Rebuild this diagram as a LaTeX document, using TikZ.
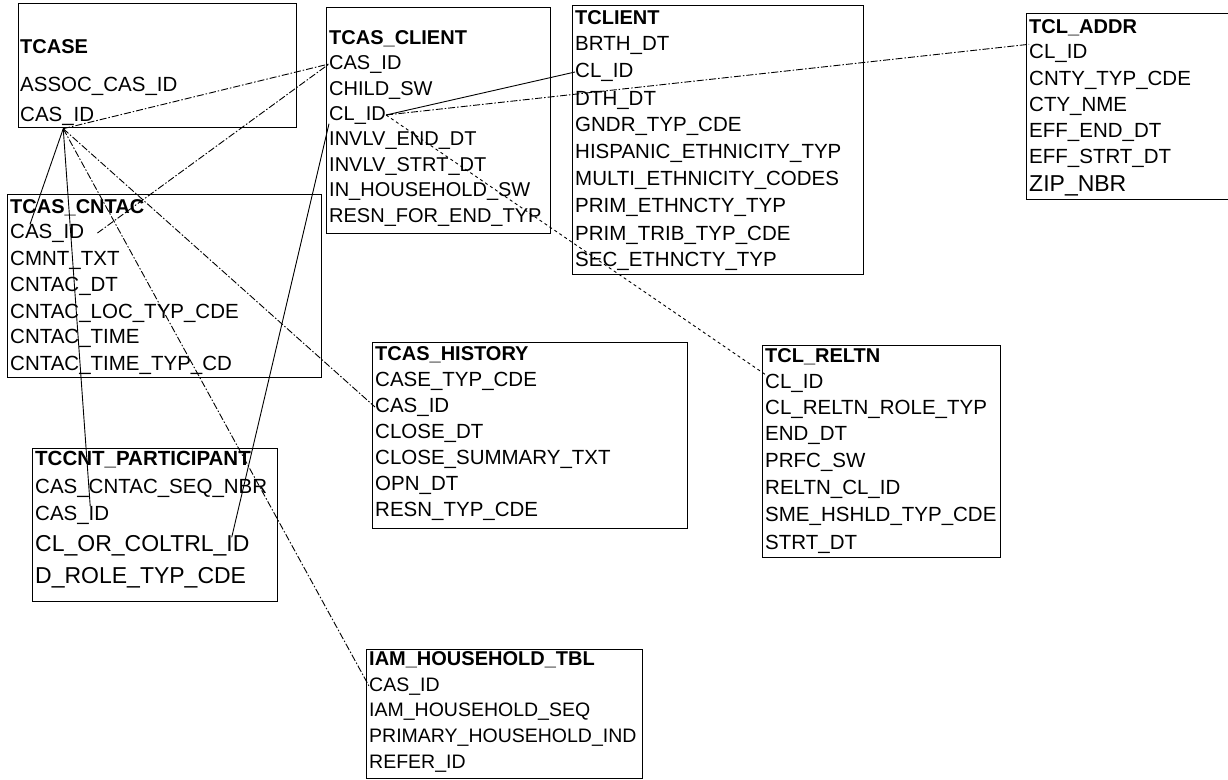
\documentclass[tikz,border=0pt]{standalone}
\usepackage{fontspec}
\setmainfont{Liberation Sans}
\usetikzlibrary{positioning}

\begin{document}
\begin{tikzpicture}[x=1pt, y=-1pt,
    table/.style={draw, line width=1.4pt, anchor=north west, inner sep=0pt},
    field/.style={anchor=west, inner sep=0pt, text height=14pt, text depth=3pt, font=\fontsize{#1}{#1}\selectfont},
    field/.default=20.5,
    title/.style={field=#1, font=\fontsize{#1}{#1}\selectfont\bfseries},
    title/.default=20,
    fk/.style={line width=0.9pt},
    fkdash/.style={fk, dash pattern=on 7pt off 2pt on 1.5pt off 2pt}
  ]
  \useasboundingbox (0,0) rectangle (1228,779);
  \clip (0,0) rectangle (1228,779);

  % TCASE
  \node[table, minimum width=278pt, minimum height=124pt] (tcase) at (18,3) {};
  \node[title] (tcase-0) at (20,48) {TCASE};
  \foreach \y/\txt [count=\i] in {86/ASSOC\_CAS\_ID, 116/CAS\_ID}
    \node[field] (tcase-\i) at (20,\y) {\txt};

  % TCAS_CLIENT
  \node[table, minimum width=224pt, minimum height=226pt] (tcasclient) at (326,7) {};
  \node[title] (tcasclient-0) at (329,39) {TCAS\_CLIENT};
  \foreach \y/\txt [count=\i] in {64/CAS\_ID, 90/CHILD\_SW, 115/CL\_ID, 140/INVLV\_END\_DT,
      166/INVLV\_STRT\_DT, 191/IN\_HOUSEHOLD\_SW, 217/RESN\_FOR\_END\_TYP}
    \node[field=20] (tcasclient-\i) at (329,\y) {\txt};

  % TCLIENT
  \node[table, minimum width=291pt, minimum height=269pt] (tclient) at (572,5) {};
  \node[title] (tclient-0) at (575,19) {TCLIENT};
  \foreach \y/\txt [count=\i] in {45/BRTH\_DT, 72/CL\_ID, 100/DTH\_DT, 126/GNDR\_TYP\_CDE,
      153/HISPANIC\_ETHNICITY\_TYP, 180/MULTI\_ETHNICITY\_CODES, 207/PRIM\_ETHNCTY\_TYP,
      235/PRIM\_TRIB\_TYP\_CDE, 261/SEC\_ETHNCTY\_TYP}
    \node[field] (tclient-\i) at (575,\y) {\txt};

  % TCL_ADDR
  \node[table, minimum width=210pt, minimum height=186pt] (tcladdr) at (1026,13) {};
  \node[title] (tcladdr-0) at (1029,28) {TCL\_ADDR};
  \foreach \y/\txt [count=\i] in {53/CL\_ID, 80/CNTY\_TYP\_CDE, 106/CTY\_NME, 132/EFF\_END\_DT,
      158/EFF\_STRT\_DT}
    \node[field] (tcladdr-\i) at (1029,\y) {\txt};
  \node[field=23] (tcladdr-6) at (1029,186) {ZIP\_NBR};

  % TCAS_CNTAC
  \node[table, minimum width=314pt, minimum height=183pt] (tcascntac) at (7,194) {};
  \node[title] (tcascntac-0) at (10,208) {TCAS\_CNTAC};
  \foreach \y/\txt [count=\i] in {233/CAS\_ID, 260/CMNT\_TXT, 286/CNTAC\_DT,
      313/CNTAC\_LOC\_TYP\_CDE, 338/CNTAC\_TIME, 365/CNTAC\_TIME\_TYP\_CD}
    \node[field] (tcascntac-\i) at (10,\y) {\txt};

  % TCAS_HISTORY
  \node[table, minimum width=315pt, minimum height=186pt] (tcashistory) at (372,342) {};
  \node[title] (tcashistory-0) at (375,355) {TCAS\_HISTORY};
  \foreach \y/\txt [count=\i] in {381/CASE\_TYP\_CDE, 407/CAS\_ID, 433/CLOSE\_DT,
      459/CLOSE\_SUMMARY\_TXT, 485/OPN\_DT, 511/RESN\_TYP\_CDE}
    \node[field] (tcashistory-\i) at (375,\y) {\txt};

  % TCL_RELTN
  \node[table, minimum width=238pt, minimum height=212pt] (tclreltn) at (762,345) {};
  \node[title] (tclreltn-0) at (765,357) {TCL\_RELTN};
  \foreach \y/\txt [count=\i] in {383/CL\_ID, 409/CL\_RELTN\_ROLE\_TYP, 435/END\_DT, 462/PRFC\_SW,
      489/RELTN\_CL\_ID, 516/SME\_HSHLD\_TYP\_CDE, 544/STRT\_DT}
    \node[field] (tclreltn-\i) at (765,\y) {\txt};

  % TCCNT_PARTICIPANT
  \node[table, minimum width=245pt, minimum height=153pt] (tccntpart) at (32,448) {};
  \node[title=20.5] (tccntpart-0) at (35,460) {TCCNT\_PARTICIPANT};
  \node[field] (tccntpart-1) at (35,488) {CAS\_CNTAC\_SEQ\_NBR};
  \node[field] (tccntpart-2) at (35,515) {CAS\_ID};
  \node[field=23] (tccntpart-3) at (35,546) {CL\_OR\_COLTRL\_ID};
  \node[field=23] (tccntpart-4) at (35,578) {D\_ROLE\_TYP\_CDE};

  % IAM_HOUSEHOLD_TBL
  \node[table, minimum width=276pt, minimum height=129pt] (iamhh) at (366,649) {};
  \node[title] (iamhh-0) at (369,660) {IAM\_HOUSEHOLD\_TBL};
  \foreach \y/\txt [count=\i] in {686/CAS\_ID, 711/IAM\_HOUSEHOLD\_SEQ,
      737/PRIMARY\_HOUSEHOLD\_IND, 763/REFER\_ID}
    \node[field=19.5] (iamhh-\i) at (369,\y) {\txt};

  % relationships
  \coordinate (caskey) at ([xshift=6pt,yshift=-4pt]tcase-2.south);
  \draw[fkdash] (caskey) -- (tcasclient-1.west);
  \draw[fk] (caskey) -- ([xshift=20pt]tcascntac-1.north west);
  \draw[fk] (caskey) -- ([xshift=18pt]tccntpart-2.north);
  \draw[fkdash] (caskey) -- (tcashistory-2.west);
  \draw[fkdash] (caskey) -- (iamhh-1.west);
  \draw[fkdash] ([xshift=13pt]tcascntac-1.east) -- (tcasclient-1.west);
  \draw[fk] (tcasclient-3.south west) -- ([xshift=-18pt]tccntpart-3.north east);
  \draw[fk] (tcasclient-3.east) -- (tclient-2.west);
  \draw[fkdash] (tcasclient-3.east) -- (tcladdr-1.north west);
  \draw[fk, dashed] (tcasclient-3.east) -- (tclreltn-1.north west);
\end{tikzpicture}
\end{document}
